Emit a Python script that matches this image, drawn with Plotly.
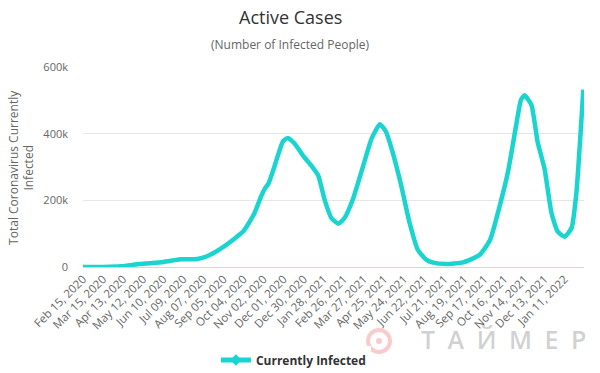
import plotly.graph_objects as go

dates = [
    "2020-02-15", "2020-03-15", "2020-04-10", "2020-05-07", "2020-06-10",
    "2020-07-05", "2020-07-29", "2020-08-13", "2020-09-06", "2020-10-04",
    "2020-10-19", "2020-10-29", "2020-11-04", "2020-11-09", "2020-11-18",
    "2020-11-30", "2020-12-07", "2020-12-17", "2020-12-29", "2021-01-10",
    "2021-01-20", "2021-01-29", "2021-02-08", "2021-02-18", "2021-02-27",
    "2021-03-11", "2021-03-26", "2021-04-07", "2021-04-19", "2021-04-28",
    "2021-05-08", "2021-05-20", "2021-06-01", "2021-06-13", "2021-06-25",
    "2021-07-05", "2021-07-24", "2021-08-17", "2021-09-10", "2021-09-25",
    "2021-10-09", "2021-10-21", "2021-11-02", "2021-11-09", "2021-11-14",
    "2021-11-24", "2021-12-03", "2021-12-13", "2021-12-23", "2022-01-01",
    "2022-01-11", "2022-01-21", "2022-01-28", "2022-02-07",
]
active_cases = [
    0, 100, 2000, 9000, 15000,
    23000, 24000, 33000, 62000, 108000,
    158000, 210000, 236000, 250000, 304000,
    377000, 387000, 370000, 334000, 304000,
    274000, 203000, 147000, 130000, 147000,
    203000, 304000, 385000, 428000, 405000,
    340000, 243000, 132000, 51000, 22000,
    13000, 9000, 14000, 36000, 80000,
    182000, 284000, 426000, 502000, 515000,
    486000, 375000, 294000, 162000, 106000,
    91000, 117000, 223000, 532000,
]
series_name = "Currently Infected"
y_ticks = [0, 200000, 400000, 600000]
y_tick_labels = ["0", "200k", "400k", "600k"]

LINE = "#1ad4cf"
fig = go.Figure()
fig.add_trace(go.Scatter(
    x=dates, y=active_cases, mode="lines", name=series_name, showlegend=False,
    line=dict(color=LINE, width=4.5, shape="spline", smoothing=0.5),
))
fig.add_trace(go.Scatter(
    x=[None], y=[None], mode="lines+markers", name=series_name, showlegend=True,
    line=dict(color=LINE, width=5),
    marker=dict(size=9, color=LINE, symbol="diamond"),
))

fig.update_layout(
    width=600, height=373,
    margin=dict(l=83, r=16, t=67, b=106, autoexpand=False),
    paper_bgcolor="white", plot_bgcolor="white",
    font=dict(family="Open Sans", color="#666666", size=11),
    showlegend=True,
    legend=dict(orientation="h", x=0.42, xanchor="center", y=-0.465, yanchor="middle",
                font=dict(size=12, color="#333333", family="Open Sans", weight="bold")),
    xaxis=dict(
        type="date", automargin=False,
        range=["2020-02-15", "2022-02-08"],
        tick0="2020-02-15", dtick=29 * 86400000,
        tickformat="%b %d, %Y", tickangle=-45,
        showgrid=False, showline=True, linecolor="#ccd6eb", linewidth=1,
        ticks="", tickfont=dict(size=11.5, color="#666666"),
        zeroline=False,
    ),
    yaxis=dict(
        automargin=False,
        range=[0, 600000], tickvals=y_ticks, ticktext=y_tick_labels,
        showgrid=True, gridcolor="#e6e6e6", gridwidth=1,
        zeroline=False, showline=False, ticks="",
        ticklabelstandoff=14, tickfont=dict(size=11, color="#666666"),
    ),
    annotations=[
        dict(text="Active Cases", xref="paper", yref="paper", x=0.415, y=1.25,
             xanchor="center", yanchor="middle", showarrow=False,
             font=dict(size=18, color="#333333", family="Open Sans")),
        dict(text="(Number of Infected People)", xref="paper", yref="paper", x=0.415, y=1.11,
             xanchor="center", yanchor="middle", showarrow=False,
             font=dict(size=12, color="#666666", family="Open Sans")),
        dict(text="Total Coronavirus Currently<br>Infected", xref="paper", yref="paper",
             x=-0.124, y=0.5, xanchor="center", yanchor="middle", textangle=-90,
             showarrow=False, font=dict(size=12, color="#666666", family="Open Sans")),
        dict(text="Т\u2002А\u2002Й\u2002М\u2002Е\u2002Р", xref="paper", yref="paper",
             x=(503 - 83) / 501, y=(267 - 339) / 200,
             xanchor="center", yanchor="middle", showarrow=False,
             font=dict(size=25, color="rgba(150,150,150,0.45)", family="Open Sans", weight=600)),
    ],
    shapes=[
        dict(type="circle", xref="paper", yref="paper",
             x0=(368 - 83) / 501, x1=(390 - 83) / 501,
             y0=(267 - 352) / 200, y1=(267 - 330) / 200,
             line=dict(color="rgba(235,110,110,0.35)", width=4)),
        dict(type="circle", xref="paper", yref="paper",
             x0=(376 - 83) / 501, x1=(382 - 83) / 501,
             y0=(267 - 344) / 200, y1=(267 - 338) / 200,
             fillcolor="rgba(235,110,110,0.35)", line=dict(width=0)),
    ],
)

fig.write_html("out.html", config={"displayModeBar": False},
               post_script="document.body.style.margin='0';")
